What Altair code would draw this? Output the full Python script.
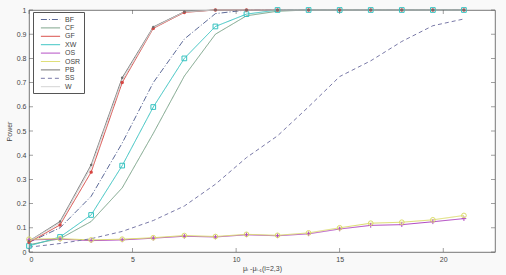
import altair as alt
import pandas as pd

x_vals = [0, 1.5, 3, 4.5, 6, 7.5, 9, 10.5, 12, 13.5, 15, 16.5, 18, 19.5, 21]

series_names = ["BF", "CF", "GF", "XW", "OS", "OSR", "PB", "SS", "W"]

BF = [0.04, 0.10, 0.23, 0.45, 0.70, 0.88, 0.985, 1.0, 1.0, 1.0, 1.0, 1.0, 1.0, 1.0, 1.0]
CF = [0.03, 0.055, 0.126, 0.265, 0.49, 0.727, 0.90, 0.976, 0.995, 1.0, 1.0, 1.0, 1.0, 1.0, 1.0]
GF = [0.04, 0.112, 0.33, 0.70, 0.924, 0.99, 1.0, 1.0, 1.0, 1.0, 1.0, 1.0, 1.0, 1.0, 1.0]
XW = [0.025, 0.062, 0.153, 0.357, 0.599, 0.80, 0.932, 0.983, 1.0, 1.0, 1.0, 1.0, 1.0, 1.0, 1.0]
OS = [0.05, 0.053, 0.047, 0.05, 0.057, 0.065, 0.062, 0.071, 0.067, 0.075, 0.095, 0.11, 0.113, 0.125, 0.138]
OSR = [0.053, 0.055, 0.05, 0.053, 0.059, 0.068, 0.064, 0.073, 0.069, 0.079, 0.10, 0.119, 0.123, 0.133, 0.151]
PB = [0.045, 0.126, 0.36, 0.72, 0.93, 0.993, 1.0, 1.0, 1.0, 1.0, 1.0, 1.0, 1.0, 1.0, 1.0]
SS = [0.02, 0.035, 0.055, 0.085, 0.13, 0.19, 0.28, 0.39, 0.48, 0.60, 0.725, 0.79, 0.87, 0.935, 0.963]
W = [0.045, 0.12, 0.35, 0.71, 0.927, 0.992, 1.0, 1.0, 1.0, 1.0, 1.0, 1.0, 1.0, 1.0, 1.0]

x_ticks = [0, 5, 10, 15, 20]
y_ticks = [0, 0.1, 0.2, 0.3, 0.4, 0.5, 0.6, 0.7, 0.8, 0.9, 1.0]

colors = ["#5d6a98", "#79a287", "#d64541", "#35c2c0", "#b148c2", "#dcdc6c", "#6e6e6e", "#7a7aa8", "#d2d2d2"]
dashes = [[6, 2, 1, 2], [1, 0], [1, 0], [1, 0], [1, 0], [1, 0], [1, 0], [4, 3], [1, 0]]

values = {"BF": BF, "CF": CF, "GF": GF, "XW": XW, "OS": OS, "OSR": OSR, "PB": PB, "SS": SS, "W": W}
rows = []
for s in series_names:
    for xv, yv in zip(x_vals, values[s]):
        rows.append({"x": xv, "y": yv, "series": s})
df = pd.DataFrame(rows)

W_PLOT, H_PLOT = 466, 242

xscale = alt.Scale(domain=[0, 22.5], nice=False, zero=False)
yscale = alt.Scale(domain=[0, 1], nice=False)

x_axis = alt.Axis(values=x_ticks, title="μᵢ -μᵢ₋₁(i=2,3)", ticks=False, domain=False,
                  grid=False, labelFontSize=7, titleFontSize=7, labelColor="#444",
                  titleColor="#444", labelPadding=3, titlePadding=2, titleFontWeight="normal",
                  labelOverlap=False)
y_axis = alt.Axis(values=y_ticks, title="Power", ticks=False, domain=False, grid=False,
                  labelExpr="format(datum.value, '~g')", labelFontSize=7, titleFontSize=7,
                  labelColor="#444", titleColor="#444", labelPadding=3, titlePadding=4,
                  titleFontWeight="normal", labelOverlap=False)

legend_cfg = dict(title=None, orient="none", legendX=4, legendY=2,
                  symbolType="M-2.4,0L2.4,0", symbolSize=64, symbolStrokeWidth=1,
                  labelFontSize=7, labelColor="#444", rowPadding=0.4,
                  padding=3, strokeColor="#555", fillColor="white",
                  symbolOffset=10, labelOffset=10)

lines = alt.Chart(df).mark_line(strokeWidth=1).encode(
    x=alt.X("x:Q", scale=xscale, axis=x_axis),
    y=alt.Y("y:Q", scale=yscale, axis=y_axis),
    color=alt.Color("series:N", scale=alt.Scale(domain=series_names, range=colors),
                    legend=alt.Legend(**legend_cfg)),
    strokeDash=alt.StrokeDash("series:N", scale=alt.Scale(domain=series_names, range=dashes),
                              legend=alt.Legend(**legend_cfg)),
    detail="series:N",
    order="x:Q",
)

filled_pts = alt.Chart(df).transform_filter(
    alt.FieldOneOfPredicate(field="series", oneOf=["GF", "PB"])
).mark_point(filled=True, shape="circle", opacity=1).encode(
    x=alt.X("x:Q", scale=xscale, axis=x_axis),
    y=alt.Y("y:Q", scale=yscale, axis=y_axis),
    color=alt.Color("series:N", scale=alt.Scale(domain=series_names, range=colors), legend=None),
    size=alt.Size("series:N", scale=alt.Scale(domain=["GF", "PB"], range=[12, 6]), legend=None),
)

open_pts = alt.Chart(df).transform_filter(
    alt.FieldOneOfPredicate(field="series", oneOf=["XW", "OSR", "OS"])
).mark_point(filled=False, strokeWidth=1, size=22, opacity=1).encode(
    x=alt.X("x:Q", scale=xscale, axis=x_axis),
    y=alt.Y("y:Q", scale=yscale, axis=y_axis),
    color=alt.Color("series:N", scale=alt.Scale(domain=series_names, range=colors), legend=None),
    shape=alt.Shape("series:N",
                    scale=alt.Scale(domain=["XW", "OSR", "OS"],
                                    range=["square", "circle", "M-1,0L1,0M0,-1L0,1"]),
                    legend=None),
)

xt = pd.DataFrame({"t": x_ticks})
yt = pd.DataFrame({"t": y_ticks})
tick_style = dict(color="#555", thickness=0.8, size=4)
xt_bottom = alt.Chart(xt).mark_tick(**tick_style).encode(
    x=alt.X("t:Q", scale=xscale, axis=x_axis), y=alt.value(H_PLOT - 2))
xt_top = alt.Chart(xt).mark_tick(**tick_style).encode(
    x=alt.X("t:Q", scale=xscale, axis=x_axis), y=alt.value(2))
yt_left = alt.Chart(yt).mark_tick(**tick_style).encode(
    y=alt.Y("t:Q", scale=yscale, axis=y_axis), x=alt.value(2))
yt_right = alt.Chart(yt).mark_tick(**tick_style).encode(
    y=alt.Y("t:Q", scale=yscale, axis=y_axis), x=alt.value(W_PLOT - 2))

chart = alt.layer(
    lines, open_pts, filled_pts, xt_bottom, xt_top, yt_left, yt_right
).properties(
    width=W_PLOT, height=H_PLOT,
    autosize=alt.AutoSizeParams(type="none"),
    padding={"left": 29, "top": 10, "right": 11, "bottom": 23},
    background="#f9f9f9",
).configure_view(
    stroke="#555", strokeWidth=0.8, fill="white"
).configure_axis(
    labelFont="Liberation Sans", titleFont="Liberation Sans"
).configure_legend(
    labelFont="Liberation Sans"
)

chart.save("out.html", embed_options={"renderer": "svg", "actions": False})
